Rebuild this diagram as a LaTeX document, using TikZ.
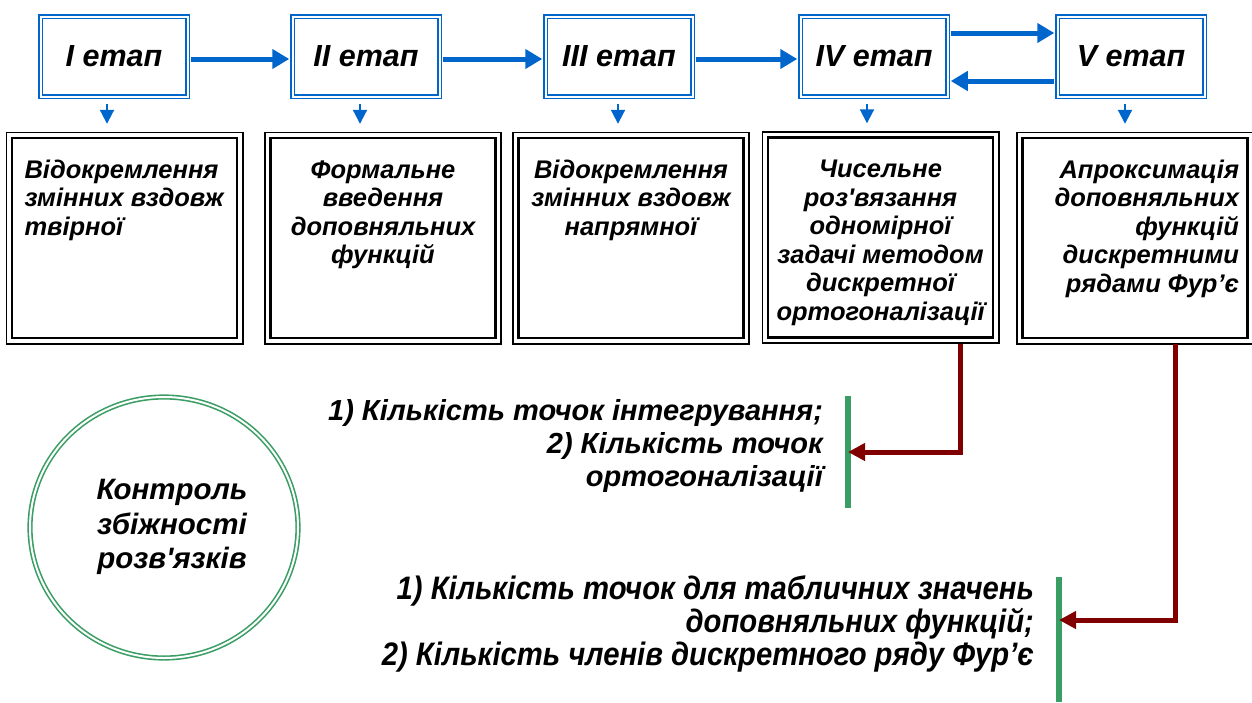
\documentclass[tikz,border=0pt]{standalone}
\usepackage{fontspec}
\setmainfont{Liberation Sans}
\newfontfamily\narrowfont[FakeStretch=0.9]{Liberation Sans}
\usetikzlibrary{positioning,arrows.meta,shapes.geometric}
\definecolor{stageblue}{HTML}{0066CC}
\definecolor{linkred}{HTML}{800000}
\definecolor{bargreen}{HTML}{3A9E64}
% text block at the top of a lower box
\newcommand{\lowpar}[2]{\parbox[c][200pt][t]{208pt}{#1\rule{0pt}{40pt}#2}}
\tikzset{
  stagebox/.style={draw=stageblue, line width=1.5pt, double=white, double distance=2pt,
    minimum width=147pt, minimum height=80pt, inner sep=0pt,
    font=\fontsize{30.5}{34}\selectfont\bfseries\itshape},
  lowbox/.style={draw, line width=2.4pt, minimum width=225pt, minimum height=200pt, inner sep=0pt,
    font=\fontsize{25.5}{28.5}\selectfont\bfseries\itshape,
    append after command={\pgfextra{\draw[line width=1.6pt]
      ([shift={(-4.5pt,4.5pt)}]\tikzlastnode.north west) rectangle
      ([shift={(4.5pt,-4.5pt)}]\tikzlastnode.south east);}}},
  flowarr/.style={draw=stageblue, line width=5pt, -{Triangle[length=17pt,width=19pt]},
    shorten <=2.5pt, shorten >=2.5pt},
  downarr/.style={draw=stageblue, line width=2pt, -{Triangle[length=14pt,width=14pt]},
    shorten <=6.5pt, shorten >=13pt},
  linkarr/.style={draw=linkred, line width=5pt, -{Triangle[length=17pt,width=17pt]},
    shorten <=5pt},
  gbar/.style={fill=bargreen, minimum width=5.5pt, inner sep=0pt},
  note/.style={align=right, inner sep=0pt, font=\fontsize{29}{33}\selectfont\bfseries\itshape},
  ctrlring/.style={ellipse, draw=bargreen, line width=1.6pt, double=white, double distance=2pt,
    minimum width=268pt, minimum height=261pt, inner sep=0pt,
    font=\fontsize{29.5}{34.5}\selectfont\bfseries\itshape}
}
\begin{document}
\begin{tikzpicture}[x=1pt, y=-1pt]
  \useasboundingbox (0,0) rectangle (1252,702);

  % stages
  \foreach \i/\name/\x in {1/I/114,2/II/366,3/III/619,4/IV/874,5/V/1131}
    \node[stagebox] (s\i) at (\x,56.5) {\name{} етап};

  % lower boxes
  \node[lowbox] (b1) at (124.5,238) {\lowpar{\raggedright\leftskip=4pt}{Відокремлення\\змінних вздовж\\твірної}};
  \node[lowbox] (b2) at (383,238) {\lowpar{\centering}{Формальне\\введення\\доповняльних\\функцій}};
  \node[lowbox] (b3) at (631,238) {\lowpar{\centering}{Відокремлення\\змінних вздовж\\напрямної}};
  \node[lowbox] (b4) at (880.5,237.5) {\lowpar{\centering}{Чисельне\\роз\textquotesingle вязання\\одномірної\\задачі методом\\дискретної\\ортогоналізації}};
  \node[lowbox] (b5) at (1135,238) {\lowpar{\raggedleft}{Апроксимація\\доповняльних\\функцій\\дискретними\\рядами Фур’є}};

  % arrows between stages
  \foreach \i/\j in {1/2,2/3,3/4}
    \draw[flowarr] ([yshift=-2.5pt]s\i.east) -- ([yshift=-2.5pt]s\j.west);
  \draw[flowarr] ([yshift=23.5pt]s4.east) -- ([yshift=23.5pt]s5.west);
  \draw[flowarr] ([yshift=-24.5pt]s5.west) -- ([yshift=-24.5pt]s4.east);

  \foreach \i/\dx in {1/-7,2/-6,3/-1,4/-7,5/-6}
    \draw[downarr] ([xshift=\dx pt]s\i.south) -- ([xshift=\dx pt]s\i.south |- b\i.north);

  % parameters
  \node[gbar, minimum height=112pt] (g1) at (848,452) {};
  \node[gbar, minimum height=125pt] (g2) at (1059,639.5) {};
  \draw[linkarr] ([xshift=79.5pt]b4.south) |- (g1.center);
  \draw[linkarr] ([xshift=40pt]b5.south) |- ([yshift=19.5pt]g2.center);

  \node[note, left=22pt of g1, yshift=6pt] (n1) {1) Кількість точок інтегрування;\\2) Кількість точок\\ортогоналізації};
  \node[note, font=\fontsize{32.5}{33}\selectfont\narrowfont\bfseries\itshape, left=22pt of g2, yshift=16pt] (n2)
    {1) Кількість точок для табличних значень\\доповняльних функцій;\\2) Кількість членів дискретного ряду Фур’є};

  \node[ctrlring] (ring) at (164,527.5) {\hspace*{16pt}\begin{tabular}{@{}c@{}}Контроль\\збіжності\\розв\textquotesingle язків\end{tabular}};
\end{tikzpicture}
\end{document}
